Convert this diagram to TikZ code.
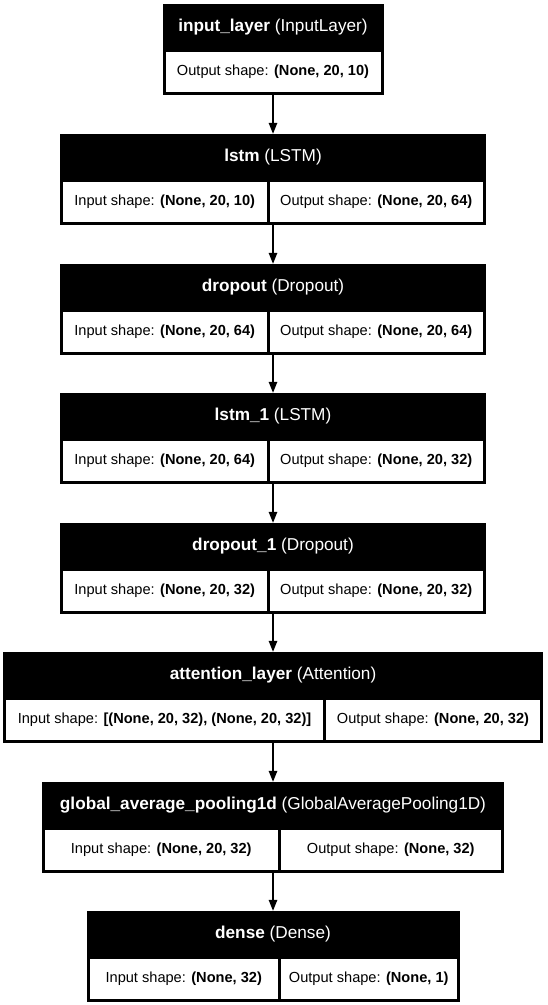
\documentclass[tikz,border=0pt]{standalone}
\usepackage{fontspec}
\setmainfont{Liberation Sans}
\usetikzlibrary{arrows.meta,positioning}

\begin{document}
\begin{tikzpicture}[x=1pt,y=-1pt,
  blackbox/.style={draw=none, fill=black, minimum height=91pt, inner sep=0pt},
  title/.style={text=white, inner sep=0pt, font=\fontsize{17.2}{19}\selectfont},
  cell/.style={fill=white, anchor=north west, minimum height=40pt, inner sep=0pt, font=\fontsize{14.6}{16}\selectfont},
  arr/.style={-{Triangle[length=11pt,width=8.5pt]}, line width=1.3pt}]

\useasboundingbox (0,0) rectangle (547,1005);
\fill[white] (0,0) rectangle (547,1005);

% input layer
\node[blackbox, minimum width=221pt] (input_layer) at (273,49.5) {};
\node[title] at ([yshift=-23pt]input_layer.north) {\textbf{input\_layer} (InputLayer)};
\node[cell, minimum width=215pt] (input_layer-out) at ([xshift=3pt,yshift=-48pt]input_layer.north west) {Output shape: \textbf{(None, 20, 10)}};

% lstm
\node[blackbox, minimum width=426pt] (lstm) at (273,179.5) {};
\node[title] at ([yshift=-23pt]lstm.north) {\textbf{lstm} (LSTM)};
\node[cell, minimum width=203.5pt] (lstm-in) at ([xshift=3pt,yshift=-48pt]lstm.north west) {Input shape: \textbf{(None, 20, 10)}};
\node[cell, minimum width=213.5pt, anchor=north east] (lstm-out) at ([xshift=-3pt,yshift=-48pt]lstm.north east) {Output shape: \textbf{(None, 20, 64)}};

% dropout
\node[blackbox, minimum width=426pt] (dropout) at (273,309.5) {};
\node[title] at ([yshift=-23pt]dropout.north) {\textbf{dropout} (Dropout)};
\node[cell, minimum width=203.5pt] (dropout-in) at ([xshift=3pt,yshift=-48pt]dropout.north west) {Input shape: \textbf{(None, 20, 64)}};
\node[cell, minimum width=213.5pt, anchor=north east] (dropout-out) at ([xshift=-3pt,yshift=-48pt]dropout.north east) {Output shape: \textbf{(None, 20, 64)}};

% lstm_1
\node[blackbox, minimum width=426pt] (lstm_1) at (273,438.5) {};
\node[title] at ([yshift=-23pt]lstm_1.north) {\textbf{lstm\_1} (LSTM)};
\node[cell, minimum width=203.5pt] (lstm_1-in) at ([xshift=3pt,yshift=-48pt]lstm_1.north west) {Input shape: \textbf{(None, 20, 64)}};
\node[cell, minimum width=213.5pt, anchor=north east] (lstm_1-out) at ([xshift=-3pt,yshift=-48pt]lstm_1.north east) {Output shape: \textbf{(None, 20, 32)}};

% dropout_1
\node[blackbox, minimum width=426pt] (dropout_1) at (273,568.5) {};
\node[title] at ([yshift=-23pt]dropout_1.north) {\textbf{dropout\_1} (Dropout)};
\node[cell, minimum width=203.5pt] (dropout_1-in) at ([xshift=3pt,yshift=-48pt]dropout_1.north west) {Input shape: \textbf{(None, 20, 32)}};
\node[cell, minimum width=213.5pt, anchor=north east] (dropout_1-out) at ([xshift=-3pt,yshift=-48pt]dropout_1.north east) {Output shape: \textbf{(None, 20, 32)}};

% attention
\node[blackbox, minimum width=540pt] (attention_layer) at (273,697.5) {};
\node[title] at ([yshift=-23pt]attention_layer.north) {\textbf{attention\_layer} (Attention)};
\node[cell, minimum width=317pt] (attention_layer-in) at ([xshift=3pt,yshift=-48pt]attention_layer.north west) {Input shape: \textbf{[(None, 20, 32), (None, 20, 32)]}};
\node[cell, minimum width=214pt, anchor=north east] (attention_layer-out) at ([xshift=-3pt,yshift=-48pt]attention_layer.north east) {Output shape: \textbf{(None, 20, 32)}};

% pooling
\node[blackbox, minimum width=462pt] (global_pool) at (273,827.5) {};
\node[title] at ([yshift=-23pt]global_pool.north) {\textbf{global\_average\_pooling1d} (GlobalAveragePooling1D)};
\node[cell, minimum width=232.5pt] (global_pool-in) at ([xshift=3pt,yshift=-48pt]global_pool.north west) {Input shape: \textbf{(None, 20, 32)}};
\node[cell, minimum width=220.5pt, anchor=north east] (global_pool-out) at ([xshift=-3pt,yshift=-48pt]global_pool.north east) {Output shape: \textbf{(None, 32)}};

% dense
\node[blackbox, minimum width=373pt] (dense) at (273,956.5) {};
\node[title] at ([yshift=-23pt]dense.north) {\textbf{dense} (Dense)};
\node[cell, minimum width=188.5pt] (dense-in) at ([xshift=3pt,yshift=-48pt]dense.north west) {Input shape: \textbf{(None, 32)}};
\node[cell, minimum width=175.5pt, anchor=north east] (dense-out) at ([xshift=-3pt,yshift=-48pt]dense.north east) {Output shape: \textbf{(None, 1)}};

% arrows
\draw[arr] (input_layer.south) -- (lstm.north);
\draw[arr] (lstm.south) -- (dropout.north);
\draw[arr] (dropout.south) -- (lstm_1.north);
\draw[arr] (lstm_1.south) -- (dropout_1.north);
\draw[arr] (dropout_1.south) -- (attention_layer.north);
\draw[arr] (attention_layer.south) -- (global_pool.north);
\draw[arr] (global_pool.south) -- (dense.north);

\end{tikzpicture}
\end{document}
